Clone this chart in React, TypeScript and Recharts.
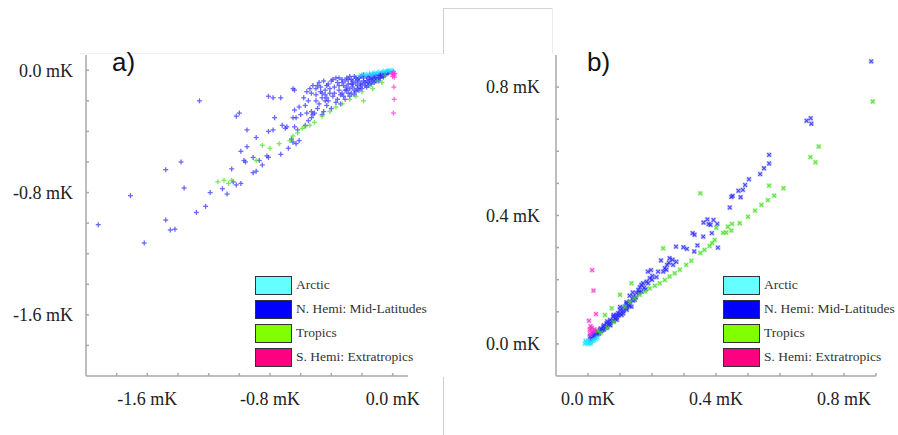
import React from 'react'
import { ScatterChart, Scatter, XAxis, YAxis, Legend } from 'recharts'

// series names + legend swatches
const REGIONS = ['Arctic', 'N. Hemi: Mid-Latitudes', 'Tropics', 'S. Hemi: Extratropics']
const SWATCH = ['#66ffff', '#0000ff', '#80ff00', '#ff0080']
const MARK = ['#22e8ff', '#2a2aff', '#3fe01a', '#ff2ad0']

// panel a) ticks
const A_TICKS = [-1.8, -1.6, -1.4, -1.2, -1.0, -0.8, -0.6, -0.4, -0.2, 0]
const A_LABELS = [-1.6, -0.8, 0]
// panel b) ticks
const B_XTICKS = [0, 0.1, 0.2, 0.3, 0.4, 0.5, 0.6, 0.7, 0.8, 0.9]
const B_YTICKS = [0, 0.1, 0.2, 0.3, 0.4, 0.5, 0.6, 0.7, 0.8]
const B_LABELS = [0, 0.4, 0.8]

// panel a) values [x, y] in mK
const A_ARCTIC = [
  [-0.22, -0.035], [-0.2, -0.03], [-0.18, -0.03], [-0.17, -0.025], [-0.15, -0.02], [-0.13, -0.025],
  [-0.12, -0.015], [-0.1, -0.015], [-0.09, -0.01], [-0.07, -0.01], [-0.06, -0.005], [-0.05, -0.012],
  [-0.04, -0.005], [-0.03, 0], [-0.02, -0.004], [-0.01, 0], [0, 0], [-0.14, -0.03], [-0.11, -0.022],
]
const A_NHMID = [
  [-1.26, -0.2], [-1.02, -0.3], [-1.0, -0.28], [-0.99, -0.53], [-0.97, -0.59], [-1.38, -0.6],
  [-1.48, -0.65], [-1.05, -0.645], [-1.36, -0.77], [-1.71, -0.82], [-1.11, -0.775], [-1.04, -0.73],
  [-1.02, -0.75], [-0.99, -0.74], [-1.19, -0.8], [-1.08, -0.81], [-1.22, -0.89], [-1.28, -0.93],
  [-1.48, -0.98], [-1.45, -1.045], [-1.42, -1.04], [-1.92, -1.01], [-1.62, -1.13],
  [-0.81, -0.17], [-0.78, -0.18], [-0.73, -0.18], [-0.65, -0.12], [-0.64, -0.13], [-0.56, -0.14],
  [-0.53, -0.15], [-0.77, -0.31], [-0.72, -0.36], [-0.7, -0.38], [-0.78, -0.39], [-0.81, -0.4],
  [-0.89, -0.44], [-0.95, -0.39], [-0.95, -0.5], [-0.96, -0.6], [-0.91, -0.57], [-0.87, -0.59],
  [-0.85, -0.62], [-0.89, -0.66], [-0.91, -0.67], [-0.82, -0.56], [-0.81, -0.57], [-0.73, -0.55],
  [-0.66, -0.45], [-0.65, -0.47], [-0.63, -0.48], [-0.61, -0.46], [-0.68, -0.51], [-0.64, -0.37],
  [-0.62, -0.39], [-0.69, -0.37], [-0.64, -0.26], [-0.65, -0.31], [-0.63, -0.31], [-0.61, -0.24],
  [-0.57, -0.23], [-0.48, -0.08], [-0.46, -0.15], [-0.43, -0.18], [-0.48, -0.22], [-0.44, -0.2],
  [-0.49, -0.25], [-0.53, -0.27], [-0.52, -0.29], [-0.56, -0.28], [-0.55, -0.33], [-0.53, -0.31],
  [-0.57, -0.36], [-0.51, -0.28], [-0.46, -0.29], [-0.52, -0.1], [-0.5, -0.12], [-0.55, -0.2],
  [-0.58, -0.18], [-0.5, -0.2], [-0.47, -0.11], [-0.6, -0.29],
  [-0.45, -0.07], [-0.44, -0.13], [-0.46, -0.18], [-0.43, -0.23], [-0.45, -0.27],
  [-0.42, -0.09], [-0.41, -0.15], [-0.42, -0.2], [-0.4, -0.25],
  [-0.39, -0.06], [-0.38, -0.11], [-0.39, -0.17], [-0.37, -0.21],
  [-0.36, -0.08], [-0.35, -0.13], [-0.36, -0.19], [-0.34, -0.22],
  [-0.33, -0.06], [-0.32, -0.1], [-0.33, -0.15], [-0.31, -0.19],
  [-0.3, -0.05], [-0.29, -0.09], [-0.3, -0.13], [-0.28, -0.17],
  [-0.27, -0.06], [-0.26, -0.11], [-0.27, -0.15],
  [-0.25, -0.04], [-0.24, -0.08], [-0.23, -0.12], [-0.25, -0.16],
  [-0.22, -0.05], [-0.21, -0.09], [-0.22, -0.13],
  [-0.2, -0.035], [-0.19, -0.07], [-0.18, -0.1], [-0.2, -0.12],
  [-0.17, -0.04], [-0.16, -0.08], [-0.17, -0.11],
  [-0.15, -0.03], [-0.14, -0.06], [-0.15, -0.09],
  [-0.13, -0.025], [-0.12, -0.05], [-0.11, -0.07],
  [-0.1, -0.03], [-0.09, -0.05], [-0.08, -0.02], [-0.07, -0.04], [-0.06, -0.02],
  [-0.05, -0.03], [-0.04, -0.01], [-0.03, -0.02], [-0.02, -0.01],
  [-0.4, -0.07], [-0.37, -0.05], [-0.35, -0.1], [-0.34, -0.16], [-0.31, -0.07], [-0.3, -0.11],
  [-0.29, -0.15], [-0.28, -0.04], [-0.26, -0.07], [-0.25, -0.13], [-0.23, -0.06], [-0.23, -0.1],
  [-0.21, -0.04], [-0.21, -0.11], [-0.19, -0.05], [-0.18, -0.08], [-0.16, -0.05], [-0.16, -0.1],
  [-0.14, -0.04], [-0.13, -0.07], [-0.12, -0.03], [-0.11, -0.05], [-0.1, -0.06], [-0.09, -0.03],
  [-0.08, -0.05], [-0.07, -0.02], [-0.06, -0.035], [-0.05, -0.015], [-0.12, -0.08], [-0.14, -0.09],
  [-0.38, -0.15], [-0.41, -0.12], [-0.43, -0.1], [-0.47, -0.14], [-0.5, -0.16], [-0.49, -0.1],
  [-0.54, -0.12], [-0.44, -0.16], [-0.32, -0.17], [-0.26, -0.09], [-0.24, -0.14], [-0.2, -0.09],
  [-0.19, -0.03], [-0.17, -0.07], [-0.15, -0.06], [-0.13, -0.05], [-0.11, -0.03], [-0.09, -0.07],
  [-0.08, -0.035], [-0.06, -0.045], [-0.04, -0.025], [-0.03, -0.01], [-0.24, -0.05], [-0.22, -0.07],
  [-0.27, -0.09], [-0.29, -0.06], [-0.33, -0.08], [-0.35, -0.05], [-0.31, -0.13], [-0.28, -0.12],
]
const A_TROPICS = [
  [-1.14, -0.73], [-1.1, -0.72], [-1.07, -0.74], [-1.05, -0.72], [-0.89, -0.59], [-0.85, -0.49],
  [-0.8, -0.51], [-0.74, -0.48], [-0.67, -0.46], [-0.65, -0.43], [-0.62, -0.41], [-0.59, -0.38],
  [-0.57, -0.37], [-0.54, -0.36], [-0.51, -0.34], [-0.46, -0.3], [-0.41, -0.27], [-0.37, -0.24],
  [-0.33, -0.22], [-0.28, -0.19], [-0.24, -0.17], [-0.19, -0.2], [-0.15, -0.1], [-0.13, -0.12],
  [-0.1, -0.07], [-0.07, -0.08], [-0.05, -0.035], [-0.2, -0.14],
]
const A_SHEMI = [
  [0, -0.02], [0.005, -0.01], [0.01, -0.03], [0, -0.04], [0.012, -0.045], [-0.005, -0.025],
  [0.015, -0.02], [0.008, -0.11], [0.01, -0.19], [0.005, -0.28],
]

// panel b) values [x, y] in mK
const B_ARCTIC = [
  [-0.01, 0], [-0.005, 0.005], [0, 0], [0.005, 0.003], [0.01, 0.005], [0.015, 0.01], [0.02, 0.012],
  [0, 0.008], [0.008, 0], [0.025, 0.015], [-0.008, 0.01], [0.03, 0.02],
]
const B_NHMID = [
  [0.885, 0.88], [0.683, 0.695], [0.696, 0.703], [0.698, 0.686], [0.566, 0.589], [0.566, 0.562],
  [0.55, 0.547], [0.538, 0.529], [0.503, 0.513], [0.491, 0.495], [0.484, 0.48], [0.47, 0.477],
  [0.477, 0.457], [0.452, 0.461], [0.448, 0.458], [0.443, 0.425], [0.373, 0.388], [0.361, 0.378],
  [0.377, 0.373], [0.383, 0.371], [0.392, 0.386], [0.404, 0.374], [0.387, 0.345], [0.36, 0.334],
  [0.327, 0.345], [0.333, 0.34], [0.342, 0.307], [0.332, 0.288], [0.275, 0.303], [0.298, 0.301],
  [0.309, 0.296], [0.406, 0.3], [0.255, 0.267], [0.264, 0.262], [0.253, 0.253], [0.247, 0.246],
  [0.24, 0.236], [0.245, 0.231], [0.235, 0.225], [0.219, 0.225], [0.266, 0.246], [0.276, 0.256],
  [0.193, 0.205], [0.201, 0.212], [0.183, 0.194], [0.172, 0.189], [0.188, 0.189], [0.214, 0.208],
  [0.162, 0.177], [0.157, 0.168], [0.167, 0.163], [0.152, 0.158], [0.141, 0.147], [0.146, 0.137],
  [0.131, 0.132], [0.126, 0.121], [0.115, 0.116], [0.11, 0.111], [0.1, 0.106], [0.094, 0.096],
  [0.089, 0.09], [0.079, 0.085], [0.105, 0.09], [0.121, 0.106], [0.136, 0.116], [0.187, 0.225],
  [0.197, 0.23], [0.167, 0.184], [0.228, 0.26], [0.13, 0.15], [0.14, 0.16], [0.12, 0.13],
  [0.069, 0.075], [0.058, 0.064], [0.048, 0.054], [0.037, 0.044], [0.027, 0.038], [0.017, 0.033],
  [0.006, 0.023], [0.075, 0.07], [0.065, 0.06], [0.055, 0.05], [0.045, 0.042], [0.035, 0.032],
  [0.025, 0.025], [0.015, 0.015], [0.01, 0.012], [0.05, 0.058], [0.04, 0.048], [0.03, 0.03],
  [0.02, 0.02], [0.085, 0.078], [0.095, 0.088], [0.06, 0.052], [0.07, 0.065], [0.08, 0.072],
  [0.09, 0.082], [0.1, 0.094], [0.11, 0.102], [0.12, 0.112], [0.015, 0.022], [0.005, 0.008],
  [0.02, 0.028], [0.03, 0.038], [0.04, 0.04], [0.05, 0.045], [0.06, 0.07], [0.07, 0.058],
  [0.08, 0.09], [0.09, 0.075], [0.1, 0.115], [0.11, 0.095], [0.12, 0.125], [0.13, 0.118],
  [0.14, 0.135], [0.15, 0.145], [0.16, 0.16], [0.175, 0.175], [0.18, 0.17], [0.2, 0.2],
]
const B_TROPICS = [
  [0.89, 0.755], [0.721, 0.615], [0.695, 0.582], [0.711, 0.566], [0.566, 0.493], [0.611, 0.485],
  [0.582, 0.462], [0.562, 0.448], [0.542, 0.433], [0.522, 0.415], [0.5, 0.396], [0.474, 0.376],
  [0.45, 0.374], [0.437, 0.365], [0.448, 0.353], [0.432, 0.347], [0.422, 0.346], [0.401, 0.362],
  [0.396, 0.324], [0.388, 0.314], [0.38, 0.305], [0.364, 0.293], [0.351, 0.283], [0.351, 0.469],
  [0.235, 0.298], [0.323, 0.259], [0.307, 0.246], [0.287, 0.231], [0.271, 0.22], [0.255, 0.21],
  [0.24, 0.199], [0.224, 0.189], [0.209, 0.181], [0.193, 0.173], [0.178, 0.163], [0.162, 0.153],
  [0.146, 0.142], [0.131, 0.13], [0.115, 0.115], [0.136, 0.189], [0.1, 0.153], [0.074, 0.111],
  [0.053, 0.09], [0.06, 0.05], [0.04, 0.035], [0.08, 0.068], [0.03, 0.04],
]
const B_SHEMI = [
  [0.013, 0.23], [0.017, 0.166], [0.025, 0.093], [0.003, 0.072], [0.008, 0.055], [0.012, 0.05],
  [0.005, 0.045], [0.015, 0.04], [0.01, 0.035], [0.02, 0.045], [0.006, 0.03],
]

const toPts = (arr: number[][]) => arr.map(([x, y]) => ({ x, y }))

const fmt = (labels: number[]) => (v: number) =>
  labels.some((l) => Math.abs(l - v) < 1e-9) ? `${v.toFixed(1)} mK` : ''

const plus = (color: string) => (p: any) => (
  <g stroke={color} strokeWidth={1.3} opacity={0.7}>
    <line x1={p.cx - 2.5} y1={p.cy} x2={p.cx + 2.5} y2={p.cy} />
    <line x1={p.cx} y1={p.cy - 2.5} x2={p.cx} y2={p.cy + 2.5} />
  </g>
)

const cross = (color: string) => (p: any) => (
  <g>
    <rect x={p.cx - 2.5} y={p.cy - 2.5} width={5} height={5} fill={color} opacity={0.25} />
    <path
      d={`M${p.cx - 1.8},${p.cy - 1.8}L${p.cx + 1.8},${p.cy + 1.8}M${p.cx + 1.8},${p.cy - 1.8}L${p.cx - 1.8},${p.cy + 1.8}`}
      stroke={color}
      strokeWidth={1.1}
      opacity={0.8}
    />
  </g>
)

const tickFont = { fontFamily: 'Liberation Serif', fontSize: 18, fill: '#222' }

function LegendBox() {
  return (
    <div style={{ fontFamily: 'Liberation Serif', fontSize: 13.5, color: '#333' }}>
      {REGIONS.map((r, i) => (
        <div key={r} style={{ display: 'flex', alignItems: 'center', height: 24 }}>
          <div
            style={{
              width: 35, height: 17, background: SWATCH[i],
              border: '1.5px solid #333', marginRight: 4,
            }}
          />
          <span>{r}</span>
        </div>
      ))}
    </div>
  )
}

function Panel(props: {
  left: number; width: number; axisLeft: number; marginRight: number
  domain: [number, number]; xTicks: number[]; yTicks: number[]; labels: number[]
  series: number[][][]; shape: (c: string) => (p: any) => React.ReactElement
  yMargin: number; legendLeft: number; tag: string; tagLeft: number
}) {
  const order = [1, 2, 0, 3] // blue, green, cyan, magenta drawing order
  return (
    <div style={{ position: 'absolute', left: props.left, top: 0 }}>
      <ScatterChart
        width={props.width}
        height={435}
        margin={{ top: 55, left: 0, right: props.marginRight, bottom: 0 }}
      >
        <XAxis
          type="number" dataKey="x" domain={props.domain} allowDataOverflow
          ticks={props.xTicks} interval={0} tickFormatter={fmt(props.labels)}
          height={59} tickSize={-3} tickMargin={19} tick={tickFont}
          stroke="#a8a8a8" strokeWidth={1.5}
        />
        <YAxis
          type="number" dataKey="y" domain={props.domain} allowDataOverflow
          ticks={props.yTicks} interval={0} tickFormatter={fmt(props.labels)}
          width={props.axisLeft} tickSize={-3} tickMargin={props.yMargin} tick={tickFont}
          stroke="#a8a8a8" strokeWidth={1.5}
        />
        <Legend
          layout="vertical" align="center" verticalAlign="middle"
          wrapperStyle={{ position: 'absolute', left: props.legendLeft, top: 273, width: 'auto' }}
          content={() => <LegendBox />}
        />
        {order.map((i) => (
          <Scatter
            key={REGIONS[i]}
            name={REGIONS[i]}
            data={toPts(props.series[i])}
            fill={MARK[i]}
            shape={props.shape(MARK[i])}
            isAnimationActive={false}
          />
        ))}
      </ScatterChart>
      <div
        style={{
          position: 'absolute', left: props.tagLeft, top: 49,
          fontFamily: 'Liberation Sans', fontSize: 26, lineHeight: '26px', color: '#111',
        }}
      >
        {props.tag}
      </div>
    </div>
  )
}

const line = (l: number, t: number, w: number, h: number, c: string) => (
  <div style={{ position: 'absolute', left: l, top: t, width: w, height: h, background: c }} />
)

export default function App() {
  return (
    <div style={{ position: 'absolute', left: 0, top: 0, width: 898, height: 435, background: '#fff', overflow: 'hidden' }}>
      {line(80, 53, 363, 1, '#f2f2f2')}
      {line(443, 8, 1, 46, '#cfcfcf')}
      {line(443, 8, 110, 1, '#d4d4d4')}
      {line(552, 8, 1, 46, '#ececec')}
      {line(443, 377, 1, 58, '#cfcfcf')}
      <Panel
        left={0} width={440} axisLeft={86} marginRight={32}
        domain={[-2.0, 0.1]} xTicks={A_TICKS} yTicks={A_TICKS} labels={A_LABELS}
        series={[A_ARCTIC, A_NHMID, A_TROPICS, A_SHEMI]} shape={plus}
        yMargin={16} legendLeft={255} tag="a)" tagLeft={112}
      />
      <Panel
        left={440} width={458} axisLeft={116} marginRight={22}
        domain={[-0.1, 0.9]} xTicks={B_XTICKS} yTicks={B_YTICKS} labels={B_LABELS}
        series={[B_ARCTIC, B_NHMID, B_TROPICS, B_SHEMI]} shape={cross}
        yMargin={19} legendLeft={283} tag="b)" tagLeft={147}
      />
    </div>
  )
}
